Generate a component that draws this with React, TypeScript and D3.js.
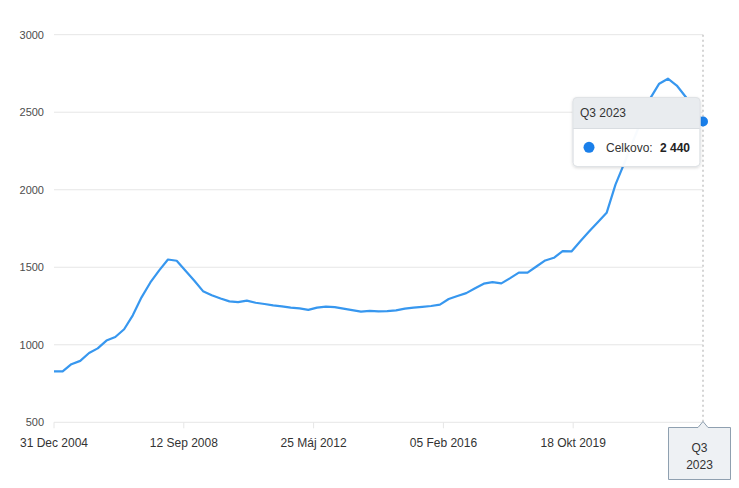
import React from "react";
import * as d3 from "d3";

const seriesName = "Celkovo";
const startYear = 2005;
const values: number[] = [
  828, 828, 875, 896, 947, 977, 1027, 1050, 1100, 1190,
  1306, 1402, 1480, 1550, 1542, 1477, 1413, 1346, 1320, 1299,
  1280, 1275, 1285, 1271, 1263, 1254, 1248, 1240, 1235, 1225,
  1240, 1246, 1243, 1233, 1224, 1214, 1219, 1215, 1217, 1222,
  1233, 1240, 1245, 1250, 1259, 1295, 1315, 1333, 1365, 1394,
  1404, 1396, 1430, 1465, 1465, 1505, 1544, 1561, 1604, 1602,
  1668, 1730, 1790, 1851, 2033, 2168, 2310, 2452, 2593, 2684,
  2716, 2672, 2600, 2516, 2440,
];
const yTicks: number[] = [500, 1000, 1500, 2000, 2500, 3000];
const xTickLabels: string[] = ["31 Dec 2004", "12 Sep 2008", "25 Máj 2012", "05 Feb 2016", "18 Okt 2019"];
const tooltipValueLabel = "2 440";

const dates = values.map((_, i) => new Date(startYear + Math.floor(i / 4), (i % 4) * 3, 1));
const lastIdx = values.length - 1;
const q = (i: number) => `Q${(i % 4) + 1} ${startYear + Math.floor(i / 4)}`;

export default function App() {
  const W = 739, H = 488;
  const left = 54, right = 703, top = 34.7, bottom = 422.3;
  const x = d3.scaleTime().domain([dates[0], dates[lastIdx]]).range([left, right]);
  const y = d3.scaleLinear().domain([500, 3000]).range([bottom, top]);
  const line = d3.line<number>().x((_, i) => x(dates[i])).y((d) => y(d));
  const t0 = dates[0].getTime(), t1 = dates[lastIdx].getTime();
  const tickPos = d3.range(6).map((k) => x(new Date(t0 + (k * (t1 - t0)) / 5)));
  const px = x(dates[lastIdx]);
  const py = y(values[lastIdx]);
  const font = "'Liberation Sans', Arial, sans-serif";
  const ttX = 573, ttY = 97.5, ttW = 127, ttH = 69, ttHead = 31;

  return (
    <svg width={W} height={H} style={{ position: "absolute", left: 0, top: 0, fontFamily: font }}>
      <defs>
        <filter id="sh" x="-20%" y="-20%" width="140%" height="150%">
          <feDropShadow dx="0" dy="1" stdDeviation="1.5" floodColor="#000" floodOpacity="0.15" />
        </filter>
        <clipPath id="ttclip">
          <rect x={ttX} y={ttY} width={ttW} height={ttH} rx={4} />
        </clipPath>
      </defs>
      <rect width={W} height={H} fill="#fff" />
      {yTicks.map((t) => (
        <g key={t}>
          <line x1={left} x2={right} y1={y(t)} y2={y(t)} stroke="#e6e6e6" strokeWidth={1} />
          <text x={44} y={y(t) + 4} textAnchor="end" fontSize={11} fill="#4d4d4d">{t}</text>
        </g>
      ))}
      {tickPos.map((p, k) => (
        <line key={k} x1={p} x2={p} y1={bottom} y2={bottom + 6} stroke="#e6e6e6" strokeWidth={1} />
      ))}
      {xTickLabels.map((l, k) => (
        <text key={l} x={tickPos[k]} y={447} textAnchor="middle" fontSize={12} fill="#333">{l}</text>
      ))}
      <line x1={px} x2={px} y1={top} y2={bottom} stroke="#d4d4d4" strokeWidth={2} strokeDasharray="2,3" />
      <path d={line(values) || ""} fill="none" stroke="#3797ef" strokeWidth={2.2} strokeLinejoin="round" />
      <circle cx={px} cy={py} r={5} fill="#1a7fea" />
      {/* crosshair label */}
      <path
        d={`M ${668.5} ${427.5} L ${px - 5} ${427.5} L ${px} ${421.5} L ${px + 5} ${427.5} L ${730.5} ${427.5} L ${730.5} ${479.5} L ${668.5} ${479.5} Z`}
        fill="#eef1f4" stroke="#8fa0b0" strokeWidth={1}
      />
      <text x={699.5} y={452} textAnchor="middle" fontSize={12} fill="#333">{q(lastIdx).split(" ")[0]}</text>
      <text x={699.5} y={469} textAnchor="middle" fontSize={12} fill="#333">{q(lastIdx).split(" ")[1]}</text>
      {/* tooltip */}
      <g filter="url(#sh)">
        <rect x={ttX} y={ttY} width={ttW} height={ttH} rx={4} fill="rgba(255,255,255,0.96)" stroke="#e3e6e9" />
      </g>
      <g clipPath="url(#ttclip)">
        <rect x={ttX} y={ttY} width={ttW} height={ttHead} fill="#e9ecef" />
      </g>
      <line x1={ttX} x2={ttX + ttW} y1={ttY + ttHead} y2={ttY + ttHead} stroke="#d9dde1" />
      <rect x={ttX} y={ttY} width={ttW} height={ttH} rx={4} fill="none" stroke="#e0e3e6" />
      <text x={580} y={117} fontSize={12} fill="#333">{q(lastIdx)}</text>
      <circle cx={589} cy={147.3} r={5.5} fill="#1a7fea" />
      <text x={606} y={152} fontSize={12} fill="#333">{seriesName}:</text>
      <text x={690} y={152} textAnchor="end" fontSize={12} fontWeight="bold" fill="#222">{tooltipValueLabel}</text>
    </svg>
  );
}
